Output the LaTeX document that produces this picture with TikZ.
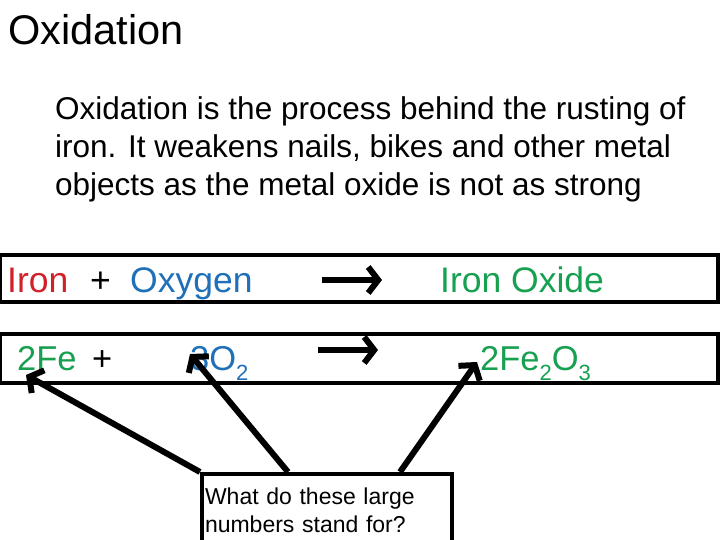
\documentclass[tikz,border=0pt]{standalone}
\usepackage{fontspec}
\setmainfont{Liberation Sans}
\usetikzlibrary{arrows.meta}
\definecolor{fred}{HTML}{D0202A}
\definecolor{fblue}{HTML}{1F70B8}
\definecolor{fgreen}{HTML}{16A050}
\newcommand{\lowsub}[1]{\raisebox{-0.3em}{\fontsize{22}{24}\selectfont #1}}
\begin{document}
\begin{tikzpicture}[x=1pt,y=-1pt,
  box/.style={draw=black,line width=4pt},
  fat/.style={line width=6pt,-{Straight Barb[length=10pt,width=26pt]}},
  rarr/.style={line width=6pt,-{Straight Barb[length=10pt,width=26pt]}},
  lbl/.style={inner sep=0pt,anchor=base west},
  big/.style={font=\fontsize{35.5}{40}\selectfont},
  mid/.style={font=\fontsize{34.5}{40}\selectfont}]
\useasboundingbox (0,0) rectangle (720,540);
\node[lbl,font=\fontsize{41.5}{48}\selectfont] (title) at (8,45) {Oxidation};
\node[inner sep=0pt,anchor=north west,align=left,font=\fontsize{31.5}{38}\selectfont] (para) at (55,96)
 {Oxidation is the process behind the rusting of\\iron. It weakens nails, bikes and other metal\\objects as the metal oxide is not as strong};
\draw[box] (0,255) rectangle (718,302);
\draw[box] (0,334) rectangle (718,383);
\node[lbl,big,text=fred] (iron) at (7,292) {Iron};
\node[lbl,big] (plus1) at (90,292) {+};
\node[lbl,big,text=fblue] (oxy) at (130,292) {Oxygen};
\node[lbl,big,text=fgreen] (ioxide) at (440,292) {Iron Oxide};
\coordinate (a1s) at (322,280); \coordinate (a1e) at (382,280);
\draw[rarr] (a1s) -- (a1e);
\node[lbl,mid,text=fgreen] (fe) at (17,370) {2Fe};
\node[lbl,mid] (plus2) at (92,370) {+};
\node[lbl,mid,text=fblue] (o2) at (190,370) {3O\lowsub{2}};
\node[lbl,mid,text=fgreen] (fe2o3) at (480,370) {2Fe\lowsub{2}O\lowsub{3}};
\coordinate (a2s) at (318,350); \coordinate (a2e) at (378,350);
\draw[rarr] (a2s) -- (a2e);
\node[box,anchor=north west,minimum width=250pt,minimum height=72pt,inner sep=3pt,align=left,text width=244pt,font=\fontsize{23}{28}\selectfont] (q) at (200,472) {What do these large\\numbers stand for?};
\coordinate (t1) at (26,375); \coordinate (t2) at (190,354); \coordinate (t3) at (477,362);
\draw[fat] (q.north west) -- (t1);
\draw[fat] ([xshift=88pt]q.north west) -- (t2);
\draw[fat] ([xshift=200pt]q.north west) -- (t3);
\end{tikzpicture}
\end{document}
